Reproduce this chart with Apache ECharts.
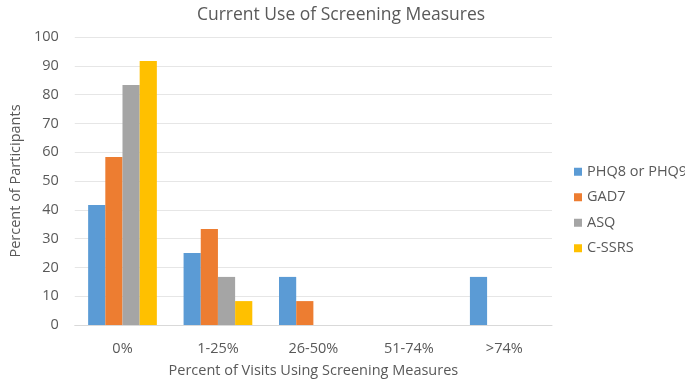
<!DOCTYPE html>
<html>
<head>
<meta charset="utf-8">
<script src="https://cdn.jsdelivr.net/npm/echarts@6/dist/echarts.min.js"></script>
<style>
  html, body { margin: 0; padding: 0; background: #fff; }
  #chart { width: 685px; height: 383px; }
</style>
</head>
<body>
<div id="chart"></div>
<script>
  var categories = ['0%', '1-25%', '26-50%', '51-74%', '>74%'];
  var phq = [41.7, 25, 16.7, 0, 16.7];
  var gad7 = [58.3, 33.3, 8.3, 0, 0];
  var asq = [83.3, 16.7, 0, 0, 0];
  var cssrs = [91.7, 8.3, 0, 0, 0];
  var yTicks = [0, 10, 20, 30, 40, 50, 60, 70, 80, 90, 100];

  var textColor = '#595959';
  var font = 'Open Sans';

  var myChart = echarts.init(document.getElementById('chart'));
  myChart.setOption({
    animation: false,
    title: {
      text: 'Current Use of Screening Measures',
      left: 336,
      textAlign: 'center',
      top: 1,
      textStyle: { color: textColor, fontSize: 17.5, fontWeight: 'normal', fontFamily: font }
    },
    legend: {
      orient: 'vertical',
      left: 569,
      top: 157,
      itemWidth: 8,
      itemHeight: 8,
      itemGap: 6,
      icon: 'rect',
      textStyle: { color: textColor, fontSize: 14.5, fontFamily: font, lineHeight: 19.5 }
    },
    grid: {
      left: 63,
      right: 133,
      top: 37,
      bottom: 57
    },
    xAxis: {
      type: 'category',
      data: categories,
      name: 'Percent of Visits Using Screening Measures',
      nameLocation: 'middle',
      nameGap: 38,
      nameTextStyle: { color: textColor, fontSize: 14.5, fontFamily: font },
      axisTick: { show: false },
      axisLine: { lineStyle: { color: '#D9D9D9' } },
      axisLabel: { color: textColor, fontSize: 14.5, fontFamily: font, margin: 16 }
    },
    yAxis: {
      type: 'value',
      min: yTicks[0],
      max: yTicks[yTicks.length - 1],
      interval: 10,
      name: 'Percent of Participants',
      nameLocation: 'middle',
      nameGap: 50,
      nameTextStyle: { color: textColor, fontSize: 14.5, fontFamily: font },
      axisLine: { show: false },
      axisTick: { show: false },
      splitLine: { lineStyle: { color: '#E6E6E6' } },
      axisLabel: { color: textColor, fontSize: 14.5, fontFamily: font, margin: 16 }
    },
    series: [
      { name: 'PHQ8 or PHQ9', type: 'bar', data: phq, barGap: '0%', barCategoryGap: '28%', itemStyle: { color: '#5B9BD5' } },
      { name: 'GAD7', type: 'bar', data: gad7, itemStyle: { color: '#ED7D31' } },
      { name: 'ASQ', type: 'bar', data: asq, itemStyle: { color: '#A5A5A5' } },
      { name: 'C-SSRS', type: 'bar', data: cssrs, itemStyle: { color: '#FFC000' } }
    ]
  });
</script>
</body>
</html>
